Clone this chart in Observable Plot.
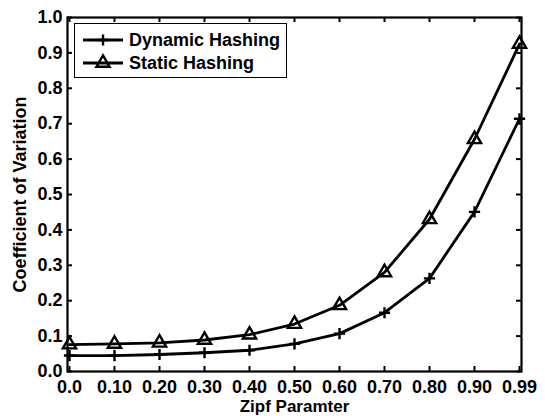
<!DOCTYPE html>
<html>
<head>
<meta charset="utf-8">
<script src="https://cdn.jsdelivr.net/npm/d3@7"></script>
<script src="https://cdn.jsdelivr.net/npm/@observablehq/plot@0.6"></script>
<style>
  html, body { margin: 0; padding: 0; background: #fff; }
  #wrap { position: relative; width: 545px; height: 416px; font-family: "Liberation Sans", Arial, sans-serif; font-weight: bold; }
  #legend { position: absolute; left: 74px; top: 23px; width: 213px; height: 55px; border: 1px solid #000; background: #fff; box-sizing: border-box; }
  #legend svg { position: absolute; left: 0; top: 0; }
  #legend .item { position: absolute; left: 54px; font-size: 18px; line-height: 18px; color: #000; white-space: nowrap; }
</style>
</head>
<body>
<div id="wrap"><div id="chart"></div><div id="legend"></div></div>
<script>
// Zipf parameter categories (evenly spaced along the axis)
const zipf = ["0.0", "0.10", "0.20", "0.30", "0.40", "0.50", "0.60", "0.70", "0.80", "0.90", "0.99"];
// Coefficient of variation per scheme
const dynamicHashing = [0.045, 0.045, 0.048, 0.053, 0.060, 0.078, 0.107, 0.166, 0.263, 0.451, 0.714];
const staticHashing  = [0.076, 0.078, 0.081, 0.089, 0.104, 0.134, 0.187, 0.280, 0.430, 0.656, 0.925];
const yTicks = [0, 0.1, 0.2, 0.3, 0.4, 0.5, 0.6, 0.7, 0.8, 0.9, 1.0];
const seriesNames = ["Dynamic Hashing", "Static Hashing"];

const dyn = zipf.map((z, i) => ({z, v: dynamicHashing[i]}));
const sta = zipf.map((z, i) => ({z, v: staticHashing[i]}));

const W = 545, H = 416;
const mT = 17, mR = 24, mB = 45, mL = 67;
const innerW = W - mL - mR, innerH = H - mT - mB;
const tickLen = 5;
const fs = 18;
const plusR = 3.7, triR = 6.3;

const chart = Plot.plot({
  width: W,
  height: H,
  marginTop: mT,
  marginRight: mR,
  marginBottom: mB,
  marginLeft: mL,
  style: {fontFamily: "'Liberation Sans', Arial, sans-serif", fontWeight: "bold", fontSize: fs + "px", color: "#000", background: "#fff"},
  x: {type: "point", domain: zipf, padding: 0},
  y: {domain: [0, 1]},
  marks: [
    Plot.axisX({tickSize: 0, tickPadding: 9, fontSize: fs, label: null}),
    Plot.axisY(yTicks, {tickSize: 0, tickPadding: 5, fontSize: fs, tickFormat: d3.format(".1f"), label: null}),
    // inward ticks on all four sides
    Plot.ruleX(zipf, {x: d => d, insetTop: innerH - tickLen, strokeWidth: 2}),
    Plot.ruleX(zipf, {x: d => d, insetBottom: innerH - tickLen, strokeWidth: 2}),
    Plot.ruleY(yTicks, {y: d => d, insetRight: innerW - tickLen, strokeWidth: 2}),
    Plot.ruleY(yTicks, {y: d => d, insetLeft: innerW - tickLen, strokeWidth: 2}),
    Plot.frame({strokeWidth: 2.2}),
    Plot.line(dyn, {x: "z", y: "v", stroke: "#000", strokeWidth: 2.8}),
    Plot.line(sta, {x: "z", y: "v", stroke: "#000", strokeWidth: 2.8}),
    Plot.dot(dyn, {x: "z", y: "v", symbol: "plus", r: plusR, stroke: "#000", strokeWidth: 2.4, fill: "none"}),
    Plot.dot(sta, {x: "z", y: "v", symbol: "triangle2", r: triR, stroke: "#000", strokeWidth: 2.4, fill: "none"}),
    Plot.text(["Zipf Paramter"], {frameAnchor: "bottom", dy: 35.5, fontSize: 17, textAnchor: "middle", lineAnchor: "middle"}),
    Plot.text(["Coefficient of Variation"], {frameAnchor: "left", dx: -47, rotate: -90, fontSize: fs, textAnchor: "middle", lineAnchor: "middle"})
  ]
});
document.getElementById("chart").appendChild(chart);

// legend inside the plot area, upper left
const legend = d3.select("#legend");
const lsvg = legend.append("svg").attr("width", 213).attr("height", 55);
const symbols = [d3.symbolPlus, d3.symbolTriangle2];
const sizes = [Math.PI * plusR * plusR, Math.PI * triR * triR];
seriesNames.forEach((name, i) => {
  const cy = 16 + i * 23;
  lsvg.append("line").attr("x1", 8).attr("x2", 48).attr("y1", cy).attr("y2", cy)
    .attr("stroke", "#000").attr("stroke-width", 2.8);
  lsvg.append("path").attr("d", d3.symbol(symbols[i], sizes[i])())
    .attr("transform", `translate(28,${cy})`)
    .attr("fill", "none").attr("stroke", "#000").attr("stroke-width", 2.4);
  legend.append("div").attr("class", "item").style("top", (cy - 9) + "px").text(name);
});
</script>
</body>
</html>
